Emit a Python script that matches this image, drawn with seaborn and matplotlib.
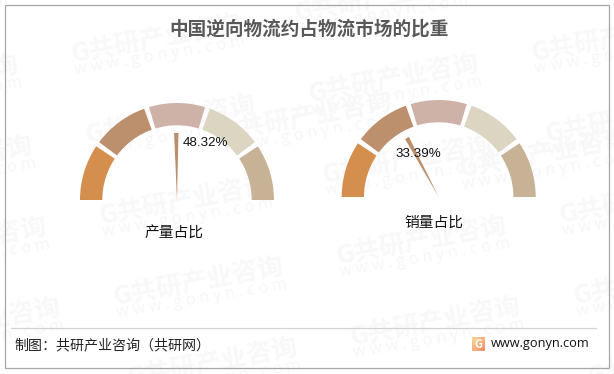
import numpy as np
import seaborn as sns
import matplotlib.pyplot as plt
from matplotlib.patches import Rectangle

# gauge data
gauge_names = ['产量占比', '销量占比']
gauge_values = [48.32, 33.39]
band_shares = [20, 20, 20, 20, 20]
band_colors = ['#d48e4e', '#bd906d', '#cfb2a7', '#dcd5c2', '#c7b295']

title = '中国逆向物流约占物流市场的比重'
source = '制图：共研产业咨询（共研网）'
site = 'www.gonyn.com'

W, H = 614, 374

sns.set_theme(style='white')
plt.rcParams['font.family'] = ['Noto Sans CJK SC', 'DejaVu Sans']

fig = plt.figure(figsize=(W / 100, H / 100), dpi=100)
ax = fig.add_axes([0, 0, 1, 1])


def py(y):
    # picture rows run downwards
    return H - y


frame = Rectangle((4.5, py(367.5)), 604, 363, fill=False, ec='#a6a6a6', lw=0.9, zorder=5)
ax.add_patch(frame)


# watermark tiles, cut at the frame
def watermark(x, y):
    t1 = ax.text(x, py(y), 'G共研产业咨询', fontsize=18.5, fontweight='bold', color='#f8f8f8',
                 rotation=10.5, rotation_mode='anchor', ha='left', va='center', zorder=0)
    t2 = ax.text(x + 3, py(y + 15), 'w w w . g o n y n . c o m', fontsize=11.5, color='#f6f6f6',
                 family='Open Sans', rotation=9.5, rotation_mode='anchor', ha='left', va='center',
                 zorder=0)
    t1.set_clip_path(frame)
    t2.set_clip_path(frame)


for i in range(-1, 5):
    for j in range(-1, 3):
        x0, y0 = 72 + i * 14 + j * 237, 55 + i * 81 + j * 40
        if x0 < 600 and y0 < 385 and y0 > -20:
            watermark(x0, y0)
watermark(222, 133)
watermark(460, 170)


# gauges
gap = 3
needle_scale = 1.85  # degrees per percent
needle_len = 67
centers = [(177, 200), (438.7, 197)]
label_pos = [(174, 234), (434, 222.5)]
value_pos = [(205, 142.5), (418, 153.5)]
R = 97
ratio = 0.23

for k in range(2):
    cx, cy = centers[k]
    sweep = [s / sum(band_shares) * (180 - gap * 4) for s in band_shares]
    sizes, cols = [], []
    for n, s in enumerate(sweep):
        sizes.append(s)
        cols.append(band_colors[n])
        if n < len(sweep) - 1:
            sizes.append(gap)
            cols.append('none')
    sizes.append(180)
    cols.append('none')
    ax.pie(sizes, colors=cols, startangle=180, counterclock=False, radius=R,
           center=(cx, py(cy)), normalize=True, frame=False,
           wedgeprops=dict(width=R * ratio, linewidth=0))

    # needle, wide at the tip and a point at the hub
    ang = np.deg2rad(180 - gauge_values[k] * needle_scale)
    tx, ty = cx + needle_len * np.cos(ang), py(cy) + needle_len * np.sin(ang)
    nx, ny = -np.sin(ang) * 2.2, np.cos(ang) * 2.2
    ax.fill([cx, tx + nx, tx - nx], [py(cy), ty + ny, ty - ny], color='#bb8f6c', lw=0, zorder=3)

    ax.text(value_pos[k][0], py(value_pos[k][1]), '%.2f%%' % gauge_values[k], fontsize=9.6,
            family='Liberation Sans', color='#111111', ha='center', va='center', zorder=4)
    ax.text(label_pos[k][0], py(label_pos[k][1]), gauge_names[k], fontsize=10.6,
            color='#111111', ha='center', va='center', zorder=4)

# separator, title and footer
ax.plot([11, 596], [py(327.5), py(327.5)], color='#d2d2d2', lw=0.9, zorder=5)

ax.text(309, py(29.5), title, fontsize=13.4, fontweight='bold', color='#595959',
        ha='center', va='center', zorder=5)
ax.text(14, py(345), source, fontsize=10.1, color='#222222', ha='left', va='center', zorder=5)
ax.text(491, py(344), site, fontsize=9.2, family='Open Sans', color='#111111',
        ha='left', va='center', zorder=5)

# small logo
grad = np.array([[0.0, 0.5], [0.5, 1.0]])
ax.imshow(grad, extent=(472, 485, py(351), py(337)), cmap=sns.blend_palette(['#f8cf90', '#f5946a'], as_cmap=True),
          interpolation='bilinear', aspect='auto', zorder=5)
ax.text(478.5, py(344), 'G', fontsize=8, fontweight='bold', color='white', ha='center', va='center', zorder=6)

ax.set_xlim(0, W)
ax.set_ylim(0, H)
ax.set_aspect('auto')
ax.axis('off')

fig.savefig('out.png', dpi=100)
